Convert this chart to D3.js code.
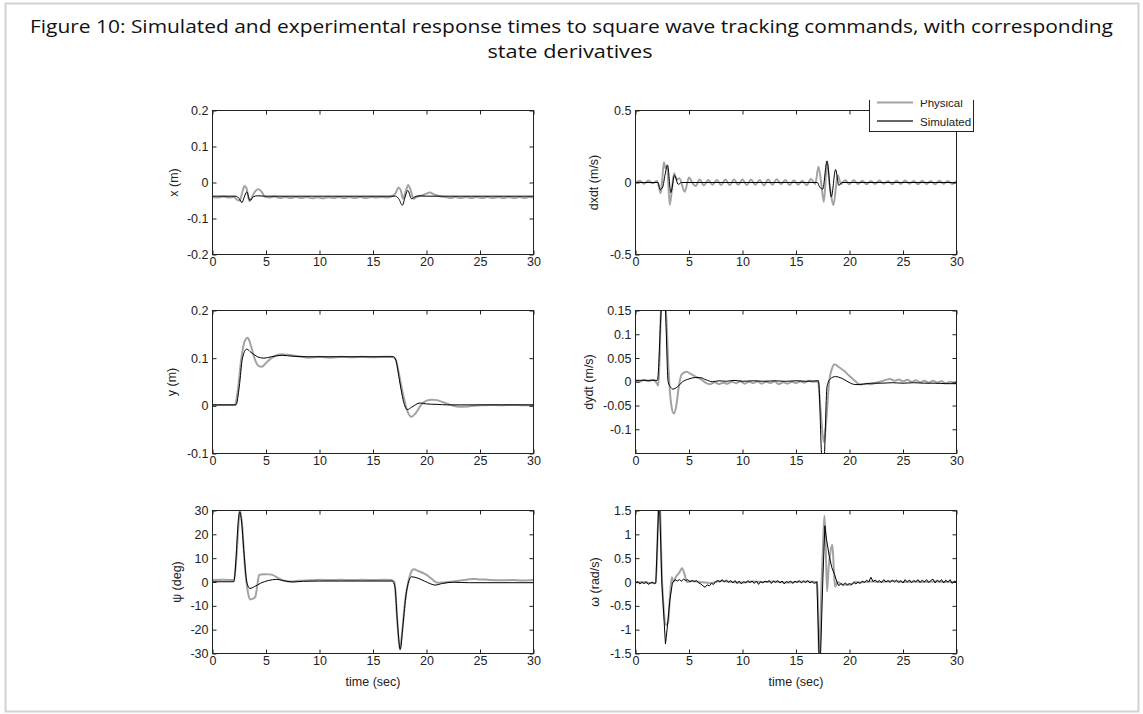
<!DOCTYPE html>
<html>
<head>
<meta charset="utf-8">
<script src="https://cdn.jsdelivr.net/npm/d3@7/dist/d3.min.js"></script>
<style>
  body { margin: 0; background: #fff; }
  #fig text { font-family: "Liberation Sans", Arial, sans-serif; }
  #fig .title { font-family: "Open Sans", sans-serif; }
</style>
</head>
<body>
<div id="fig"></div>
<script>
// time axis (sec) shared by every panel
const TIME_TICKS = [0, 5, 10, 15, 20, 25, 30];

// panel labels, y ranges and y ticks
const Y_LABELS = ["x (m)", "dxdt (m/s)", "y (m)", "dydt (m/s)", "\u03c8 (deg)", "\u03c9 (rad/s)"];
const Y_DOMAINS = [[-0.2, 0.2], [-0.5, 0.5], [-0.1, 0.2], [-0.151, 0.15], [-30, 30], [-1.5, 1.5]];
const Y_TICKS = [
  [-0.2, -0.1, 0, 0.1, 0.2],
  [-0.5, 0, 0.5],
  [-0.1, 0, 0.1, 0.2],
  [-0.1, -0.05, 0, 0.05, 0.1, 0.15],
  [-30, -20, -10, 0, 10, 20, 30],
  [-1.5, -1, -0.5, 0, 0.5, 1, 1.5]
];
const SERIES_NAMES = ["Physical", "Simulated"];

// ---- x (m) ----
const xPhys = [[0,-0.040],[0.5,-0.042],[1,-0.039],[1.5,-0.042],[2,-0.040],[2.3,-0.048],[2.55,-0.050],[2.8,-0.025],[3.0,-0.010],[3.2,-0.018],[3.45,-0.052],[3.7,-0.040],[4.0,-0.024],[4.3,-0.019],[4.6,-0.026],[4.9,-0.040],[5.3,-0.042],[5.8,-0.039],[6.3,-0.043],[6.8,-0.040],[7.3,-0.043],[7.8,-0.040],[8.3,-0.043],[8.8,-0.040],[9.3,-0.044],[9.8,-0.041],[10.3,-0.044],[10.8,-0.041],[11.3,-0.043],[11.8,-0.040],[12.3,-0.043],[12.8,-0.040],[13.3,-0.043],[13.8,-0.040],[14.3,-0.043],[14.8,-0.040],[15.3,-0.042],[15.8,-0.040],[16.3,-0.042],[16.8,-0.038],[17.1,-0.030],[17.4,-0.014],[17.6,-0.022],[17.8,-0.045],[18.0,-0.030],[18.3,-0.007],[18.5,-0.020],[18.8,-0.045],[19.1,-0.040],[19.6,-0.036],[20.0,-0.031],[20.3,-0.028],[20.7,-0.033],[21.2,-0.038],[21.7,-0.040],[22.2,-0.043],[22.7,-0.040],[23.2,-0.043],[23.7,-0.040],[24.2,-0.043],[24.7,-0.040],[25.2,-0.043],[25.7,-0.040],[26.2,-0.043],[26.7,-0.040],[27.2,-0.043],[27.7,-0.040],[28.2,-0.043],[28.7,-0.040],[29.2,-0.043],[29.6,-0.040],[30,-0.042]];
const xSim = [[0,-0.038],[2.2,-0.038],[2.5,-0.045],[2.75,-0.056],[2.95,-0.042],[3.2,-0.026],[3.5,-0.050],[3.8,-0.040],[4.2,-0.037],[5,-0.038],[17.1,-0.038],[17.4,-0.045],[17.75,-0.063],[18.0,-0.040],[18.25,-0.022],[18.6,-0.045],[18.9,-0.040],[19.3,-0.037],[20,-0.038],[30,-0.038]];

// ---- dxdt (m/s) ----
const dxPhys = [[0,0.0],[0.4,0.012],[0.8,-0.008],[1.2,0.014],[1.6,-0.006],[2.0,0.01],[2.2,-0.03],[2.35,-0.075],[2.5,0.02],[2.65,0.14],[2.8,0.10],[2.95,0.12],[3.2,-0.155],[3.4,-0.05],[3.6,0.065],[3.85,0.02],[4.1,0.03],[4.6,-0.065],[5.0,0.035],[5.3,0.0],[5.6,-0.025],[6.0,0.02],[6.4,-0.02],[6.8,0.018],[7.2,-0.016],[7.6,0.018],[8.0,-0.018],[8.4,0.02],[8.8,-0.018],[9.2,0.02],[9.6,-0.015],[10.0,0.02],[10.4,-0.018],[10.8,0.02],[11.2,-0.015],[11.6,0.018],[12.0,-0.02],[12.4,0.02],[12.8,-0.015],[13.2,0.022],[13.6,-0.012],[14.0,0.018],[14.4,-0.018],[14.8,0.015],[15.2,-0.015],[15.6,0.012],[16.0,-0.018],[16.4,0.025],[16.8,-0.01],[17.1,0.11],[17.35,0.0],[17.6,-0.135],[17.9,0.135],[18.15,-0.02],[18.3,-0.1],[18.5,-0.157],[18.9,0.05],[19.2,-0.01],[19.6,0.015],[20.0,-0.012],[20.4,0.016],[20.8,-0.01],[21.2,0.012],[21.6,-0.012],[22.0,0.01],[22.4,-0.01],[22.8,0.014],[23.2,-0.008],[23.6,0.01],[24.0,-0.012],[24.4,0.012],[24.8,-0.01],[25.2,0.014],[25.6,-0.008],[26.0,0.01],[26.4,-0.012],[26.8,0.012],[27.2,-0.01],[27.6,0.01],[28.0,-0.012],[28.4,0.012],[28.8,-0.008],[29.2,0.01],[29.6,-0.01],[30,0.008]];
const dxSim = [[0,0],[2.1,0],[2.3,-0.05],[2.55,-0.03],[2.75,0.05],[3.0,0.12],[3.3,-0.07],[3.65,0.05],[4.0,-0.013],[4.3,0.0],[17.0,0],[17.2,-0.03],[17.5,-0.045],[17.9,0.15],[18.3,-0.1],[18.7,0.09],[19.0,-0.02],[19.3,0],[30,0]];

// ---- y (m) ----
const yPhys = [[0,0.002],[2.1,0.002],[2.35,0.03],[2.7,0.1],[3.0,0.135],[3.3,0.143],[3.6,0.125],[4.0,0.095],[4.3,0.084],[4.6,0.082],[5.0,0.09],[5.5,0.1],[6.0,0.106],[6.5,0.108],[7.0,0.107],[8,0.104],[9,0.101],[10,0.103],[11,0.101],[12,0.103],[13,0.102],[14,0.103],[15,0.102],[16,0.103],[16.8,0.103],[17.1,0.098],[17.4,0.07],[17.8,0.025],[18.2,-0.01],[18.6,-0.023],[19.0,-0.015],[19.5,0.002],[20.0,0.011],[20.5,0.013],[21.0,0.012],[21.5,0.008],[22.0,0.004],[22.5,0.0],[23.1,-0.002],[24,-0.001],[25,0.001],[26,0.002],[27,0.001],[28,0.002],[29,0.001],[30,0.002]];
const ySim = [[0,0.002],[2.2,0.002],[2.5,0.04],[2.8,0.1],[3.2,0.119],[3.6,0.112],[4.2,0.103],[4.8,0.1],[5.5,0.103],[6.5,0.106],[7.5,0.104],[9,0.103],[16.9,0.103],[17.15,0.095],[17.5,0.05],[17.9,0.005],[18.2,-0.008],[18.6,-0.003],[19.4,0.006],[20,0.004],[21,0.003],[22,0.002],[30,0.002]];

// ---- dydt (m/s) ----
const dyPhys = [[0,0.003],[0.4,0.0],[0.8,0.004],[1.2,0.001],[1.6,0.004],[1.9,0.0],[2.15,-0.008],[2.38,0.15],[2.6,0.2],[2.85,0.15],[3.1,0.02],[3.35,-0.05],[3.58,-0.067],[3.8,-0.052],[4.05,-0.01],[4.3,0.015],[4.77,0.021],[5.2,0.016],[5.7,0.01],[6.2,0.004],[6.6,-0.003],[7.0,-0.005],[7.4,-0.001],[7.8,-0.005],[8.2,-0.002],[8.6,-0.004],[9.0,0.0],[9.4,-0.003],[9.8,0.001],[10.2,-0.004],[10.6,0.0],[11.0,-0.003],[11.4,0.001],[11.8,-0.004],[12.2,0.0],[12.6,-0.003],[13.0,0.001],[13.4,-0.005],[13.8,-0.001],[14.2,-0.004],[14.6,0.0],[15.0,-0.003],[15.4,0.001],[15.8,-0.002],[16.2,0.002],[16.6,0.0],[17.05,0.001],[17.3,-0.06],[17.6,-0.127],[17.8,-0.09],[18.1,0.0],[18.4,0.03],[18.6,0.037],[19.0,0.031],[19.5,0.023],[20.0,0.012],[20.5,0.002],[21.0,-0.006],[21.5,-0.004],[22.0,-0.005],[22.5,-0.002],[23.0,0.001],[23.4,0.004],[23.8,0.006],[24.2,0.002],[24.6,0.005],[25.0,0.001],[25.4,0.004],[25.8,0.0],[26.2,0.003],[26.6,-0.001],[27.0,0.002],[27.4,-0.002],[27.8,0.002],[28.2,-0.002],[28.6,0.001],[29.0,-0.003],[29.4,0.0],[29.8,-0.003],[30,0.0]];
const dySim = [[0,0.003],[2.05,0.003],[2.4,0.15],[2.6,0.2],[2.8,0.15],[3.05,0.0],[3.3,-0.012],[3.5,-0.0155],[3.9,-0.011],[4.4,0.0],[5.0,0.006],[5.6,0.009],[6.1,0.0085],[6.6,0.004],[7.2,0.0],[7.8,0.002],[8.5,0.001],[9.2,0.003],[10,0.001],[11,0.002],[12,0.001],[13,0.002],[14,0.001],[15,0.002],[16,0.001],[17.1,0.002],[17.45,-0.17],[17.6,-0.17],[17.9,-0.01],[18.2,0.006],[18.7,0.011],[19.2,0.008],[19.7,0.002],[20.2,-0.004],[20.6,-0.006],[21.3,-0.005],[22.0,-0.003],[23.0,-0.003],[24,-0.002],[25,-0.003],[26,-0.002],[27,-0.003],[28,-0.003],[29,-0.004],[30,-0.004]];

// ---- psi (deg) ----
const psiPhys = [[0,0.8],[1,0.9],[2.0,0.8],[2.2,8],[2.4,22],[2.55,30],[2.75,25],[3.0,8],[3.3,-4],[3.5,-7.3],[3.8,-7],[4.0,-6.2],[4.2,-1],[4.35,3],[4.8,3.3],[5.3,3.2],[5.7,2.8],[6.2,1.5],[6.7,0.5],[7.2,0.2],[8,0.5],[9,0.7],[10,0.9],[11,0.8],[12,0.9],[13,0.8],[14,0.9],[15,0.8],[16,0.9],[16.7,0.8],[17.0,0],[17.25,-15],[17.5,-28.3],[17.75,-20],[18.0,-8],[18.3,0],[18.6,4.5],[18.8,5.3],[19.3,4.5],[19.8,3.5],[20.3,2],[20.7,0.5],[21,-0.3],[21.5,-0.2],[22,0.0],[22.5,0.2],[23,0.5],[23.5,0.8],[24,1.2],[24.5,1.3],[25,1.1],[25.5,1.0],[26,0.8],[27,0.7],[28,0.8],[29,0.6],[30,0.8]];
const psiSim = [[0,0.1],[2.0,0.1],[2.2,10],[2.4,25],[2.55,29.5],[2.7,26],[2.95,12],[3.2,0],[3.5,-2.7],[3.9,-2],[4.5,-0.5],[5.2,0.6],[6.0,1.1],[6.6,0.6],[7.5,0.0],[8.5,0.3],[10,0.4],[16.8,0.4],[17.05,-2],[17.3,-18],[17.55,-28.3],[17.8,-18],[18.1,-5],[18.4,1],[18.6,2.2],[19.2,1.6],[19.8,0.4],[20.4,-0.8],[20.8,-1.3],[21.5,-0.6],[22.5,-0.1],[24,-0.3],[30,-0.3]];

// ---- omega (rad/s) ----
const wPhys = [[0,-0.01],[0.6,0.0],[1.2,-0.02],[1.9,-0.02],[2.15,1.5],[2.2,1.65],[2.3,1.5],[2.45,0.2],[2.65,-0.6],[2.85,-0.9],[3.05,-0.85],[3.25,-0.2],[3.4,0.1],[3.55,0.0],[3.75,0.1],[4.1,0.2],[4.35,0.29],[4.6,0.15],[4.8,0.0],[5.2,0.02],[6,0.0],[7,-0.02],[8,0.02],[9,0.0],[10,-0.01],[11,0.01],[12,0.0],[13,0.01],[14,-0.01],[15,0.0],[16,0.01],[17.0,0.0],[17.15,-1.5],[17.22,-1.6],[17.35,-0.3],[17.5,0.6],[17.65,1.39],[17.75,1.0],[17.9,-0.2],[18.05,0.3],[18.2,0.6],[18.4,0.78],[18.55,0.2],[18.65,-0.1],[18.9,0.0],[19.3,-0.05],[20,-0.06],[20.5,0.0],[21,-0.01],[22,0.01],[23,0.0],[24,0.02],[25,0.0],[26,0.01],[27,0.0],[28,0.01],[29,0.0],[30,0.0]];
const wSim = [[0,-0.02],[0.2,0.01],[0.4,-0.04],[0.6,-0.01],[0.8,-0.03],[1.0,0.01],[1.2,-0.05],[1.4,-0.02],[1.6,0.0],[1.75,-0.04],[1.9,-0.02],[2.15,1.5],[2.2,1.65],[2.27,1.5],[2.46,0.0],[2.8,-1.3],[2.95,-1.0],[3.2,-0.4],[3.45,-0.02],[3.7,0.05],[3.9,0.02],[4.1,0.05],[4.3,0.02],[4.5,0.06],[4.7,0.03],[4.9,0.05],[5.1,0.0],[5.3,0.03],[5.5,0.01],[5.7,0.03],[5.9,-0.02],[6.1,-0.04],[6.3,-0.08],[6.5,-0.11],[6.7,-0.06],[6.9,-0.08],[7.1,-0.03],[7.3,-0.05],[7.5,0.01],[7.7,0.03],[7.9,0.0],[8.1,0.05],[8.3,0.0],[8.5,0.04],[8.7,-0.01],[8.9,0.03],[9.1,-0.02],[9.3,0.03],[9.5,-0.03],[9.7,0.02],[9.9,-0.04],[10.1,0.01],[10.3,-0.02],[10.5,0.03],[10.7,-0.01],[10.9,0.02],[11.1,-0.03],[11.3,0.02],[11.5,-0.05],[11.7,0.01],[11.9,-0.02],[12.1,0.02],[12.3,0.0],[12.5,0.03],[12.7,-0.03],[12.9,0.02],[13.1,-0.01],[13.3,0.03],[13.5,-0.02],[13.7,0.02],[13.9,-0.04],[14.1,0.01],[14.3,-0.01],[14.5,0.02],[14.7,-0.03],[14.9,0.02],[15.1,-0.01],[15.3,0.03],[15.5,-0.02],[15.7,0.02],[15.9,-0.01],[16.1,0.03],[16.3,-0.02],[16.5,0.01],[16.7,-0.03],[16.95,0.0],[17.15,-1.5],[17.22,-1.7],[17.3,-1.5],[17.5,0.0],[17.7,1.18],[17.85,0.9],[18.1,0.55],[18.35,0.3],[18.6,0.16],[18.85,-0.02],[19.0,-0.08],[19.2,-0.03],[19.4,-0.07],[19.6,-0.02],[19.8,-0.06],[20.0,-0.03],[20.2,-0.06],[20.4,-0.01],[20.6,-0.04],[20.8,0.0],[21.0,-0.03],[21.2,0.02],[21.4,-0.01],[21.6,0.04],[21.8,0.0],[22.0,0.1],[22.2,0.01],[22.4,0.04],[22.6,0.0],[22.8,0.03],[23.0,-0.01],[23.2,0.05],[23.4,0.0],[23.6,0.03],[23.8,-0.01],[24.0,0.04],[24.2,0.0],[24.4,0.04],[24.6,-0.01],[24.8,0.03],[25.0,-0.02],[25.2,0.05],[25.4,0.0],[25.6,0.04],[25.8,-0.02],[26.0,0.03],[26.2,0.0],[26.4,0.05],[26.6,-0.01],[26.8,0.04],[27.0,0.0],[27.2,0.05],[27.4,-0.01],[27.6,0.03],[27.8,0.06],[28.0,-0.02],[28.2,0.04],[28.4,0.0],[28.6,0.05],[28.8,-0.02],[29.0,0.04],[29.2,0.0],[29.4,0.05],[29.6,-0.03],[29.8,0.02],[30,0.0]];

const PHYS = [xPhys, dxPhys, yPhys, dyPhys, psiPhys, wPhys];
const SIM = [xSim, dxSim, ySim, dySim, psiSim, wSim];

// ---- layout ----
const W = 1143, H = 714;
const COLS = [[212.5, 533.5], [635.5, 956.5]];
const ROWS = [[110.5, 254.5], [310.5, 453.5], [510.5, 653.5]];
const LABEL_OFF = [35, 38, 37, 43, 32, 37]; // baseline distance of y label from axis
const GRAY = "#a3a3a3";
const FS = 12.5;

const svg = d3.select("#fig").append("svg")
  .attr("width", W).attr("height", H);

svg.append("rect").attr("width", W).attr("height", H).attr("fill", "#fff");
// page frame
svg.append("rect")
  .attr("x", 5.5).attr("y", 3.5).attr("width", 1133).attr("height", 708)
  .attr("fill", "none").attr("stroke", "#d2d2d2").attr("stroke-width", 2);

// title
const title = svg.append("text").attr("class", "title")
  .attr("text-anchor", "middle").attr("font-size", 19).attr("fill", "#111");
title.append("tspan").attr("x", 571.5).attr("y", 33)
  .attr("textLength", 1083).attr("lengthAdjust", "spacingAndGlyphs")
  .text("Figure 10: Simulated and experimental response times to square wave tracking commands, with corresponding");
title.append("tspan").attr("x", 570).attr("y", 58)
  .attr("textLength", 165).attr("lengthAdjust", "spacingAndGlyphs")
  .text("state derivatives");

function drawPanel(i) {
  const col = i % 2, row = Math.floor(i / 2);
  const [x0, x1] = COLS[col];
  const [y0, y1] = ROWS[row];

  const x = d3.scaleLinear().domain([0, 30]).range([x0, x1]);
  const y = d3.scaleLinear().domain(Y_DOMAINS[i]).range([y1, y0]);

  const g = svg.append("g");

  g.append("clipPath").attr("id", "clip" + i)
    .append("rect").attr("x", x0).attr("y", y0).attr("width", x1 - x0).attr("height", y1 - y0);

  const line = d3.line().x(d => x(d[0])).y(d => y(d[1]));
  const smooth = d3.line().x(d => x(d[0])).y(d => y(d[1])).curve(d3.curveMonotoneX);
  const plot = g.append("g").attr("clip-path", "url(#clip" + i + ")");
  plot.append("path").datum(PHYS[i]).attr("d", smooth)
    .attr("fill", "none").attr("stroke", GRAY).attr("stroke-width", 2).attr("stroke-linejoin", "round");
  plot.append("path").datum(SIM[i]).attr("d", i === 5 ? line : smooth)
    .attr("fill", "none").attr("stroke", "#000").attr("stroke-width", 1);

  const fmt = d => String(d);
  const styleAxis = a => {
    a.attr("font-size", FS).attr("font-family", "'Liberation Sans', Arial, sans-serif");
    a.select(".domain").remove();
    a.selectAll("line").attr("stroke", "#222");
    a.selectAll("text").attr("fill", "#222");
  };

  g.append("g").attr("transform", `translate(0,${y1})`)
    .call(d3.axisBottom(x).tickValues(TIME_TICKS).tickFormat(fmt).tickSizeInner(-4).tickSizeOuter(0).tickPadding(3))
    .call(styleAxis);
  g.append("g").attr("transform", `translate(0,${y0})`)
    .call(d3.axisTop(x).tickValues(TIME_TICKS).tickFormat("").tickSizeInner(-4).tickSizeOuter(0))
    .call(styleAxis);
  g.append("g").attr("transform", `translate(${x0},0)`)
    .call(d3.axisLeft(y).tickValues(Y_TICKS[i]).tickFormat(fmt).tickSizeInner(-4).tickSizeOuter(0).tickPadding(4))
    .call(styleAxis);
  g.append("g").attr("transform", `translate(${x1},0)`)
    .call(d3.axisRight(y).tickValues(Y_TICKS[i]).tickFormat("").tickSizeInner(-4).tickSizeOuter(0))
    .call(styleAxis);

  // axes box
  g.append("rect").attr("x", x0).attr("y", y0).attr("width", x1 - x0).attr("height", y1 - y0)
    .attr("fill", "none").attr("stroke", "#222").attr("stroke-width", 1);

  // y label
  g.append("text")
    .attr("transform", `translate(${x0 - LABEL_OFF[i]},${(y0 + y1) / 2}) rotate(-90)`)
    .attr("text-anchor", "middle").attr("font-size", FS).attr("fill", "#222")
    .text(Y_LABELS[i]);

  if (row === 2) {
    g.append("text").attr("x", (x0 + x1) / 2).attr("y", 686)
      .attr("text-anchor", "middle").attr("font-size", FS).attr("fill", "#222")
      .text("time (sec)");
  }
}

for (let i = 0; i < 6; i++) drawPanel(i);

// legend, cut off at the top like the pasted figure
svg.append("clipPath").attr("id", "legClip")
  .append("rect").attr("x", 860).attr("y", 100).attr("width", 130).attr("height", 40);
const leg = svg.append("g").attr("clip-path", "url(#legClip)");
leg.append("rect").attr("x", 869.5).attr("y", 92.5).attr("width", 104).attr("height", 39)
  .attr("fill", "#fff").attr("stroke", "#222").attr("stroke-width", 1);
const legColors = [GRAY, "#333"];
const legWidths = [2, 1.5];
SERIES_NAMES.forEach((name, k) => {
  const ly = 102.5 + k * 18.5;
  leg.append("line").attr("x1", 877).attr("x2", 913).attr("y1", ly).attr("y2", ly)
    .attr("stroke", legColors[k]).attr("stroke-width", legWidths[k]);
  leg.append("text").attr("x", 920).attr("y", ly + 4.5)
    .attr("font-size", 11.5).attr("fill", "#222").text(name);
});
</script>
</body>
</html>
